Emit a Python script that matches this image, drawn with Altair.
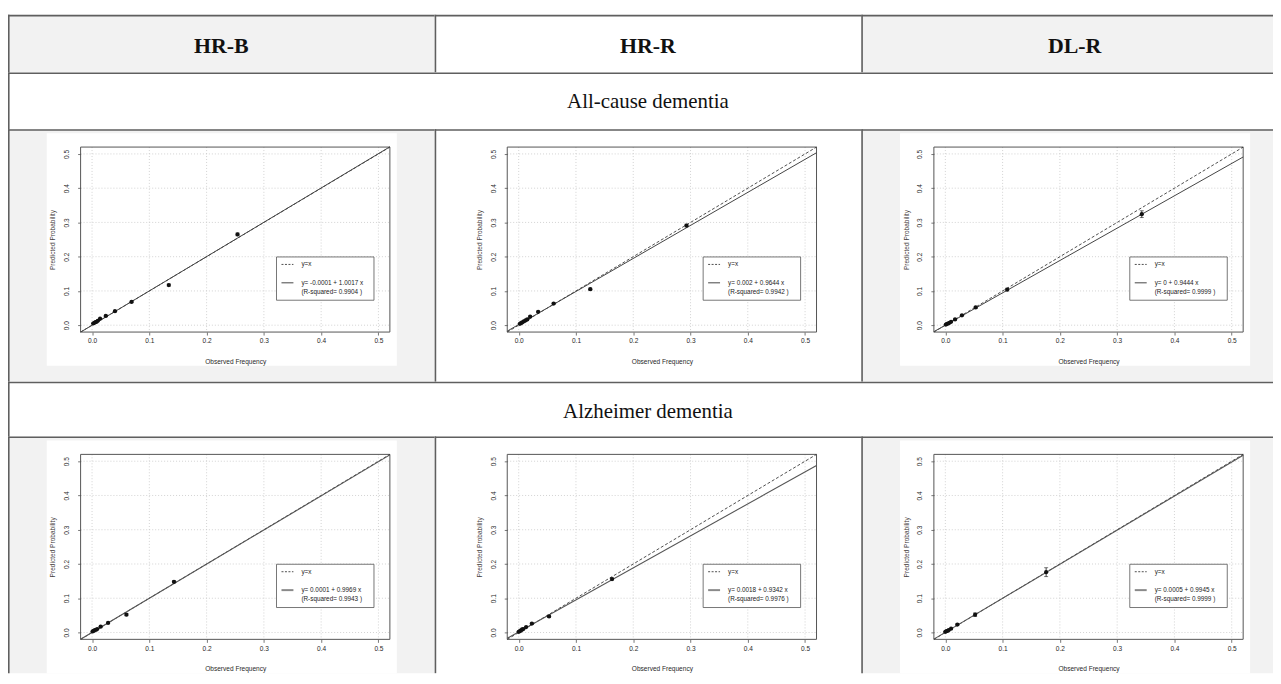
import altair as alt
import pandas as pd

# ---------------- data ----------------
COLUMNS = ["HR-B", "HR-R", "DL-R"]
SECTIONS = ["All-cause dementia", "Alzheimer dementia"]
TICKS = [0.0, 0.1, 0.2, 0.3, 0.4, 0.5]
DOMAIN = [-0.02, 0.52]

# All-cause dementia
ac_hrb_obs = [0.002, 0.004, 0.006, 0.008, 0.010, 0.014, 0.024, 0.040, 0.069, 0.134, 0.254]
ac_hrb_pred = [0.005, 0.007, 0.009, 0.010, 0.013, 0.019, 0.027, 0.041, 0.068, 0.117, 0.265]
ac_hrb_err = [0.001, 0.001, 0.001, 0.001, 0.001, 0.001, 0.002, 0.002, 0.002, 0.003, 0.004]

ac_hrr_obs = [0.002, 0.004, 0.006, 0.009, 0.012, 0.015, 0.020, 0.034, 0.061, 0.125, 0.293]
ac_hrr_pred = [0.004, 0.006, 0.008, 0.011, 0.014, 0.017, 0.025, 0.039, 0.063, 0.105, 0.291]
ac_hrr_err = [0.001, 0.001, 0.001, 0.001, 0.001, 0.001, 0.002, 0.002, 0.002, 0.003, 0.004]

ac_dlr_obs = [0.001, 0.003, 0.005, 0.007, 0.010, 0.017, 0.029, 0.053, 0.108, 0.343]
ac_dlr_pred = [0.002, 0.004, 0.005, 0.007, 0.010, 0.017, 0.029, 0.052, 0.104, 0.324]
ac_dlr_err = [0.001, 0.001, 0.001, 0.001, 0.001, 0.002, 0.002, 0.003, 0.004, 0.010]

# Alzheimer dementia
ad_hrb_obs = [0.001, 0.003, 0.005, 0.007, 0.009, 0.015, 0.028, 0.060, 0.143]
ad_hrb_pred = [0.003, 0.005, 0.007, 0.008, 0.010, 0.017, 0.028, 0.052, 0.148]
ad_hrb_err = [0.001, 0.001, 0.001, 0.001, 0.001, 0.001, 0.002, 0.003, 0.003]

ad_hrr_obs = [0.000, 0.002, 0.004, 0.006, 0.008, 0.013, 0.023, 0.053, 0.163]
ad_hrr_pred = [0.002, 0.004, 0.006, 0.009, 0.010, 0.016, 0.026, 0.047, 0.156]
ad_hrr_err = [0.001, 0.001, 0.001, 0.001, 0.001, 0.001, 0.002, 0.003, 0.003]

ad_dlr_obs = [0.000, 0.002, 0.004, 0.006, 0.010, 0.021, 0.052, 0.176]
ad_dlr_pred = [0.002, 0.004, 0.005, 0.007, 0.011, 0.023, 0.052, 0.176]
ad_dlr_err = [0.001, 0.001, 0.001, 0.001, 0.001, 0.002, 0.005, 0.013]

FIT_INTERCEPT = [-0.0001, 0.002, 0.0, 0.0001, 0.0018, 0.0005]
FIT_SLOPE = [1.0017, 0.9644, 0.9444, 0.9969, 0.9342, 0.9945]
FIT_TEXT = ["y= -0.0001 + 1.0017 x", "y= 0.002 + 0.9644 x", "y= 0 + 0.9444 x",
            "y= 0.0001 + 0.9969 x", "y= 0.0018 + 0.9342 x", "y= 0.0005 + 0.9945 x"]
FIT_R2 = ["0.9904", "0.9942", "0.9999", "0.9943", "0.9976", "0.9999"]

PANEL_OBS = [ac_hrb_obs, ac_hrr_obs, ac_dlr_obs, ad_hrb_obs, ad_hrr_obs, ad_dlr_obs]
PANEL_PRED = [ac_hrb_pred, ac_hrr_pred, ac_dlr_pred, ad_hrb_pred, ad_hrr_pred, ad_dlr_pred]
PANEL_ERR = [ac_hrb_err, ac_hrr_err, ac_dlr_err, ad_hrb_err, ad_hrr_err, ad_dlr_err]

# ---------------- layout / style ----------------
CELL_WS = [429, 429, 414]          # last column is cut by the window edge
TABLE_W = sum(CELL_WS)
HEAD_H = 58
SEC_H = [57, 55]
ROW_H = [254, 238]                 # last row is cut by the window edge
BX0, BX1 = 73, 384                 # plot box inside a cell (pixels)
BY0, BY1 = 18, 204
GRAY = "#f2f2f2"
WHITE = "#ffffff"
BORDER = "#5f5f5f"
BW = 1.6
CELL_FILL = [GRAY, WHITE, GRAY]
SERIF = "Liberation Serif"
SANS = "Liberation Sans"

one = pd.DataFrame({"k": [0]})


def frame(w, h, fill):
    # background and borders drawn as stroke-less rects kept inside the w x h view,
    # so that the concat layout puts the cells edge to edge
    bg = alt.Chart(one).mark_rect(fill=fill, strokeWidth=0).encode(
        x=alt.value(0), x2=alt.value(w), y=alt.value(0), y2=alt.value(h))
    left = alt.Chart(one).mark_rect(fill=BORDER, strokeWidth=0).encode(
        x=alt.value(0), x2=alt.value(BW), y=alt.value(0), y2=alt.value(h))
    top = alt.Chart(one).mark_rect(fill=BORDER, strokeWidth=0).encode(
        x=alt.value(0), x2=alt.value(w), y=alt.value(0), y2=alt.value(BW))
    return [bg, left, top]


def header_cell(j):
    txt = alt.Chart(pd.DataFrame({"label": [COLUMNS[j]]})).mark_text(
        font=SERIF, fontSize=22, fontWeight="bold", color="#111111",
        align="center", baseline="middle").encode(
        text="label:N", x=alt.value(214.5), y=alt.value(31))
    return alt.layer(*frame(CELL_WS[j], HEAD_H, CELL_FILL[j]), txt).properties(
        width=CELL_WS[j], height=HEAD_H)


def section(k):
    h = SEC_H[k]
    txt = alt.Chart(pd.DataFrame({"label": [SECTIONS[k]]})).mark_text(
        font=SERIF, fontSize=21, color="#111111", align="center", baseline="middle").encode(
        text="label:N", x=alt.value(643.5), y=alt.value(30))
    return alt.layer(*frame(TABLE_W, h, WHITE), txt).properties(width=TABLE_W, height=h)


def panel(i, j, row):
    obs, pred, err = PANEL_OBS[i], PANEL_PRED[i], PANEL_ERR[i]
    df = pd.DataFrame({
        "obs": obs, "pred": pred,
        "lo": [p - e for p, e in zip(pred, err)],
        "hi": [p + e for p, e in zip(pred, err)],
    })
    a, b = FIT_INTERCEPT[i], FIT_SLOPE[i]
    lines = pd.DataFrame({"x": DOMAIN, "ident": DOMAIN, "fit": [a + b * v for v in DOMAIN]})
    grid = pd.DataFrame({"t": TICKS})
    cw, ch = CELL_WS[j], ROW_H[row]

    xs = alt.Scale(domain=DOMAIN, range=[BX0, BX1], nice=False, zero=False)
    ys = alt.Scale(domain=DOMAIN, range=[BY1, BY0], nice=False, zero=False)
    x_axis = alt.Axis(values=TICKS, format=".1f", title="Observed Frequency", grid=False,
                      domain=False, tickSize=3, tickColor="#555555", tickWidth=0.8,
                      labelFont=SANS, labelFontSize=6.6, labelColor="#2a2a2a", labelPadding=3,
                      labelFlush=False, titleFont=SANS, titleFontSize=6.6,
                      titleFontWeight="normal", titleColor="#2a2a2a", titlePadding=14,
                      offset=-(ch - BY1), zindex=1)
    y_axis = alt.Axis(values=TICKS, format=".1f", title="Predicted Probability", grid=False,
                      domain=False, tickSize=3, tickColor="#555555", tickWidth=0.8,
                      labelFont=SANS, labelFontSize=6.6, labelColor="#2a2a2a", labelPadding=8,
                      labelAngle=270, labelAlign="center", labelBaseline="bottom",
                      labelFlush=False, titleFont=SANS, titleFontSize=6.6,
                      titleFontWeight="normal", titleColor="#443c3c", titlePadding=8,
                      offset=-BX0, zindex=1)

    def X(f):
        return alt.X(f, scale=xs, axis=x_axis)

    def Y(f):
        return alt.Y(f, scale=ys, axis=y_axis)

    fit_color = "#444444" if row == 0 else "#555555"
    fit_w = 1.0 if row == 0 else 1.1
    sample_color = "#444444" if row == 0 else "#8a8a8a"
    sample_w = 1.0 if row == 0 else 2.0

    layers = frame(cw, ch, CELL_FILL[j])
    image = alt.Chart(one).mark_rect(fill=WHITE).encode(
        x=alt.value(BX0 - 34), x2=alt.value(BX1 + 7),
        y=alt.value(BY0 - 14), y2=alt.value(min(BY1 + 34, ch)))
    vgrid = alt.Chart(grid).mark_rule(color="#c8c8c8", strokeWidth=0.8, strokeDash=[1, 2]).encode(
        x=X("t:Q"), y=alt.value(BY0), y2=alt.value(BY1))
    hgrid = alt.Chart(grid).mark_rule(color="#c8c8c8", strokeWidth=0.8, strokeDash=[1, 2]).encode(
        y=Y("t:Q"), x=alt.value(BX0), x2=alt.value(BX1))
    box = alt.Chart(one).mark_rect(fillOpacity=0, stroke="#555555", strokeWidth=1).encode(
        x=alt.value(BX0), x2=alt.value(BX1), y=alt.value(BY0), y2=alt.value(BY1))
    ident = alt.Chart(lines).mark_line(color="#222222", strokeWidth=0.8,
                                       strokeDash=[3, 2]).encode(x=X("x:Q"), y=Y("ident:Q"))
    fit = alt.Chart(lines).mark_line(color=fit_color, strokeWidth=fit_w).encode(
        x=X("x:Q"), y=Y("fit:Q"))
    ebar = alt.Chart(df).mark_rule(color="#111111", strokeWidth=0.8).encode(
        x=X("obs:Q"), y=Y("lo:Q"), y2="hi:Q")
    cap_lo = alt.Chart(df).mark_tick(orient="horizontal", size=4, thickness=0.8,
                                     color="#111111").encode(x=X("obs:Q"), y=Y("lo:Q"))
    cap_hi = alt.Chart(df).mark_tick(orient="horizontal", size=4, thickness=0.8,
                                     color="#111111").encode(x=X("obs:Q"), y=Y("hi:Q"))
    pts = alt.Chart(df).mark_circle(size=18, color="#111111", opacity=1).encode(
        x=X("obs:Q"), y=Y("pred:Q"))

    lx, ly = BX0, BY0
    leg_box = alt.Chart(one).mark_rect(fill=WHITE, stroke="#555555", strokeWidth=0.8).encode(
        x=alt.value(lx + 197), x2=alt.value(lx + 295), y=alt.value(ly + 110.5), y2=alt.value(ly + 154))
    leg_dash = alt.Chart(one).mark_rule(color="#222222", strokeWidth=0.8, strokeDash=[2, 1.5]).encode(
        x=alt.value(lx + 202), x2=alt.value(lx + 214), y=alt.value(ly + 118))
    leg_solid = alt.Chart(one).mark_rule(color=sample_color, strokeWidth=sample_w).encode(
        x=alt.value(lx + 202), x2=alt.value(lx + 214), y=alt.value(ly + 136.5))
    leg_lines = ["y=x", FIT_TEXT[i], "(R-squared= " + FIT_R2[i] + " )"]
    leg_ys = [118, 136.5, 145.5]
    leg_texts = [
        alt.Chart(pd.DataFrame({"label": [s]})).mark_text(
            font=SANS, fontSize=6.4, color="#222222", align="left", baseline="middle").encode(
            text="label:N", x=alt.value(lx + 222), y=alt.value(ly + yy))
        for s, yy in zip(leg_lines, leg_ys)
    ]

    layers += [image, vgrid, hgrid, box, ident, fit, ebar, cap_lo, cap_hi, pts,
               leg_box, leg_dash, leg_solid] + leg_texts
    return alt.layer(*layers).properties(width=cw, height=ch)


header = alt.hconcat(*[header_cell(j) for j in range(3)], spacing=0)
row1 = alt.hconcat(*[panel(j, j, 0) for j in range(3)], spacing=0)
row2 = alt.hconcat(*[panel(3 + j, j, 1) for j in range(3)], spacing=0)

chart = alt.vconcat(header, section(0), row1, section(1), row2, spacing=0).properties(
    padding={"left": 0, "top": 5, "right": 0, "bottom": 0}
).configure_view(stroke="transparent", strokeWidth=0)

chart.save("out.html", embed_options={"renderer": "svg", "actions": False})
